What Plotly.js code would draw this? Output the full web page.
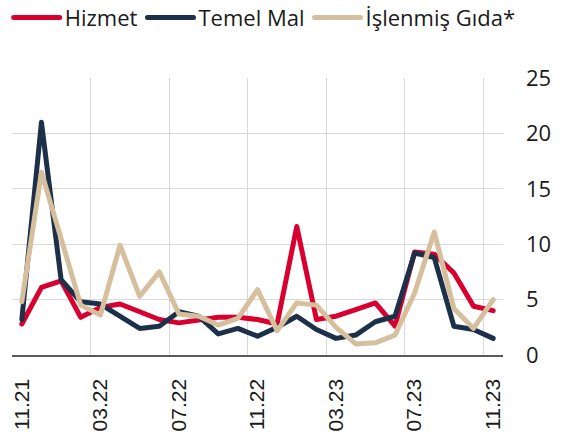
<!DOCTYPE html>
<html>
<head>
<meta charset="utf-8">
<script src="https://cdn.plot.ly/plotly-3.0.1.min.js"></script>
<style>
  html, body { margin: 0; padding: 0; background: #fff; }
  #chart { width: 571px; height: 438px; }
  path.js-line { stroke-linejoin: round; stroke-linecap: round; }
</style>
</head>
<body>
<div id="chart"></div>
<script>
// Months (index positions), tick labels
const months = ["11.21","12.21","01.22","02.22","03.22","04.22","05.22","06.22","07.22","08.22","09.22","10.22","11.22","12.22","01.23","02.23","03.23","04.23","05.23","06.23","07.23","08.23","09.23","10.23","11.23"];
const tickLabels = ["11.21","03.22","07.22","11.22","03.23","07.23","11.23"];

const hizmet = [2.8, 6.1, 6.7, 3.4, 4.3, 4.6, 3.9, 3.2, 2.9, 3.1, 3.4, 3.4, 3.2, 2.8, 11.6, 3.2, 3.5, 4.1, 4.7, 2.6, 9.3, 9.1, 7.4, 4.4, 4.0];
const temelMal = [3.2, 21.0, 6.8, 4.8, 4.6, 3.5, 2.4, 2.6, 3.9, 3.5, 1.9, 2.4, 1.7, 2.5, 3.5, 2.3, 1.5, 1.8, 3.0, 3.5, 9.2, 8.8, 2.6, 2.3, 1.5];
const islenmisGida = [4.8, 16.5, 10.5, 4.5, 3.6, 9.9, 5.3, 7.5, 3.7, 3.5, 2.7, 3.3, 5.9, 2.2, 4.7, 4.5, 2.5, 1.0, 1.1, 1.8, 5.6, 11.1, 4.2, 2.4, 5.0];

const idx = months.map((m, i) => i);
const tickVals = tickLabels.map(t => months.indexOf(t));

const traces = [
  { x: idx, y: hizmet, name: "Hizmet", type: "scatter", mode: "lines",
    line: { color: "#d7002f", width: 5 } },
  { x: idx, y: temelMal, name: "Temel Mal", type: "scatter", mode: "lines",
    line: { color: "#1c3149", width: 5 } },
  { x: idx, y: islenmisGida, name: "İşlenmiş Gıda*", type: "scatter", mode: "lines",
    line: { color: "#d5bf9c", width: 5 } }
];

const layout = {
  width: 571, height: 438,
  margin: { l: 12, r: 68, t: 78, b: 83, autoexpand: false },
  paper_bgcolor: "#ffffff", plot_bgcolor: "#ffffff",
  showlegend: true,
  legend: {
    orientation: "h", xref: "paper", yref: "paper",
    x: 1.036, y: 1.218, xanchor: "right", yanchor: "middle",
    font: { family: "Open Sans", size: 22, color: "#1a1a1a" },
    itemwidth: 46, tracegroupgap: 0, bgcolor: "rgba(0,0,0,0)"
  },
  xaxis: {
    type: "linear", range: [-0.5, 24.5],
    tickmode: "array", tickvals: tickVals, ticktext: tickLabels,
    tickangle: -90, ticks: "", showgrid: false,
    ticklabelstandoff: 14,
    tickfont: { family: "Liberation Sans", size: 21, color: "#1a1a1a" },
    showline: true, linecolor: "#595959", linewidth: 1.5,
    zeroline: false, fixedrange: true,
    minor: { tick0: -0.5, dtick: 4, showgrid: true, gridcolor: "#d9d9d9", gridwidth: 1.2, ticks: "" }
  },
  yaxis: {
    side: "right", range: [0, 25], tickvals: [0, 5, 10, 15, 20, 25],
    ticks: "", showgrid: true, gridcolor: "#d9d9d9", gridwidth: 1.2,
    zeroline: false, showline: false, ticklabelstandoff: 22,
    tickfont: { family: "Open Sans", size: 22, color: "#1a1a1a" },
    fixedrange: true
  },
  font: { family: "Open Sans", color: "#1a1a1a" }
};

Plotly.newPlot("chart", traces, layout, { displayModeBar: false, staticPlot: true });
</script>
</body>
</html>
